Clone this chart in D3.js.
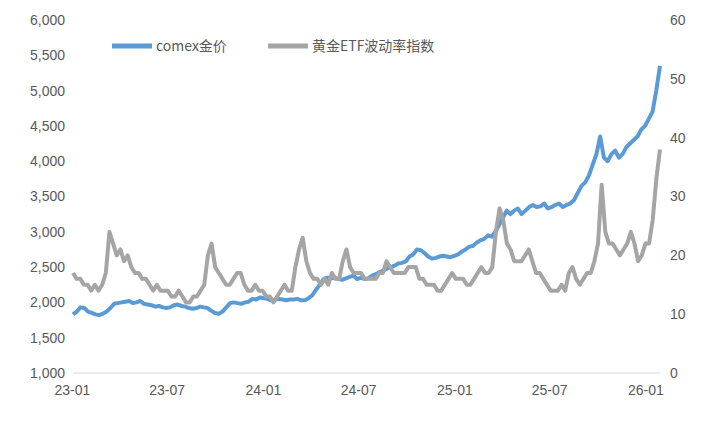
<!DOCTYPE html>
<html><head><meta charset="utf-8">
<script src="https://cdn.jsdelivr.net/npm/d3@7"></script>
<style>body{margin:0;background:#fff}text{font-family:"Noto Sans CJK SC","Liberation Sans",sans-serif}</style>
</head><body><svg id="c" width="712" height="427"></svg>
<script>
var startDate = new Date(2023, 0, 3);
var endDate = new Date(2026, 0, 29);
var goldPrice = [1830,1870,1930,1920,1870,1850,1830,1820,1840,1870,1920,1980,1990,2000,2010,2020,1990,2000,2020,1980,1970,1960,1940,1950,1930,1920,1930,1960,1970,1950,1940,1920,1910,1920,1940,1930,1920,1880,1850,1840,1870,1930,1990,2000,1990,1980,2000,2010,2050,2040,2070,2060,2050,2030,2040,2050,2040,2030,2040,2040,2050,2030,2030,2060,2100,2180,2250,2330,2350,2340,2350,2330,2320,2340,2360,2380,2330,2350,2330,2340,2380,2400,2430,2450,2480,2500,2520,2550,2560,2580,2650,2680,2750,2740,2700,2650,2620,2630,2650,2660,2650,2640,2660,2680,2720,2750,2790,2800,2850,2880,2900,2950,2930,3000,3100,3200,3300,3250,3300,3330,3250,3300,3350,3380,3350,3360,3400,3330,3350,3380,3400,3350,3380,3400,3450,3550,3650,3700,3800,3950,4100,4350,4050,4000,4100,4150,4050,4100,4200,4250,4300,4350,4450,4500,4600,4700,5000,5350];
var etfVol = [17,16,16,15,15,14,15,14,15,17,24,22,20,21,19,20,18,17,17,16,16,15,14,15,14,14,14,13,13,14,13,12,12,13,13,14,15,20,22,18,17,16,15,15,16,17,17,15,14,14,15,14,14,13,13,12,13,14,15,14,14,18,21,23,19,17,16,16,15,16,15,17,16,16,19,21,18,17,17,17,16,16,16,16,17,17,19,18,17,17,17,17,18,18,18,16,16,15,15,15,14,14,15,16,17,16,16,16,15,15,16,17,18,17,17,18,24,28,26,22,21,19,19,19,20,21,19,17,17,16,15,14,14,14,15,14,17,18,16,15,16,17,17,19,22,32,24,22,22,21,20,21,22,24,22,19,20,22,22,26,33,38];
var leftTicks = [1000,1500,2000,2500,3000,3500,4000,4500,5000,5500,6000];
var rightTicks = [0,10,20,30,40,50,60];
var xTickLabels = ["23-01","23-07","24-01","24-07","25-01","25-07","26-01"];

var svg = d3.select("#c");
var L = 73, R = 660, T = 20, B = 373;
var x = d3.scaleTime().domain([startDate, endDate]).range([L, R]);
var yL = d3.scaleLinear().domain([1000, 6000]).range([B, T]);
var yR = d3.scaleLinear().domain([0, 60]).range([B, T]);
function dateAt(n) { var s = d3.scaleLinear().domain([0, n - 1]).range([+startDate, +endDate]); return function (i) { return new Date(s(i)); }; }

var fmt = d3.format(",");
var gl = svg.append("g").attr("transform", "translate(" + L + ",0)").call(d3.axisLeft(yL).tickValues(leftTicks).tickFormat(fmt).tickSize(0).tickPadding(8));
var gr = svg.append("g").attr("transform", "translate(" + R + ",0)").call(d3.axisRight(yR).tickValues(rightTicks).tickSize(0).tickPadding(10));
var xt = xTickLabels.map(function (s) { return new Date(2000 + +s.slice(0, 2), +s.slice(3) - 1, 1); });
var gx = svg.append("g").attr("transform", "translate(0," + B + ")").call(d3.axisBottom(x).tickValues(xt).tickFormat(function (d, i) { return xTickLabels[i]; }).tickSize(0).tickPadding(12));
[gl, gr, gx].forEach(function (g) {
  g.select(".domain").remove();
  g.selectAll("text").attr("fill", "#595959").style("font-size", "14px").style("font-family", "Liberation Sans, sans-serif");
});
svg.append("line").attr("x1", L).attr("x2", R).attr("y1", B).attr("y2", B).attr("stroke", "#d9d9d9");

var gd = dateAt(goldPrice.length), ed = dateAt(etfVol.length);
svg.append("path").datum(goldPrice).attr("fill", "none").attr("stroke", "#5B9BD5").attr("stroke-width", 4).attr("stroke-linejoin", "round")
  .attr("d", d3.line().x(function (d, i) { return x(gd(i)); }).y(function (d) { return yL(d); }));
svg.append("path").datum(etfVol).attr("fill", "none").attr("stroke", "#A5A5A5").attr("stroke-width", 4).attr("stroke-linejoin", "round")
  .attr("d", d3.line().x(function (d, i) { return x(ed(i)); }).y(function (d) { return yR(d); }));

var legend = [["comex金价", "#5B9BD5", 112], ["黄金ETF波动率指数", "#A5A5A5", 268]];
legend.forEach(function (l) {
  svg.append("line").attr("x1", l[2]).attr("x2", l[2] + 40).attr("y1", 46).attr("y2", 46).attr("stroke", l[1]).attr("stroke-width", 5);
  svg.append("text").attr("x", l[2] + 44).attr("y", 51).attr("fill", "#595959").style("font-size", "14px").text(l[0]);
});
</script></body></html>
